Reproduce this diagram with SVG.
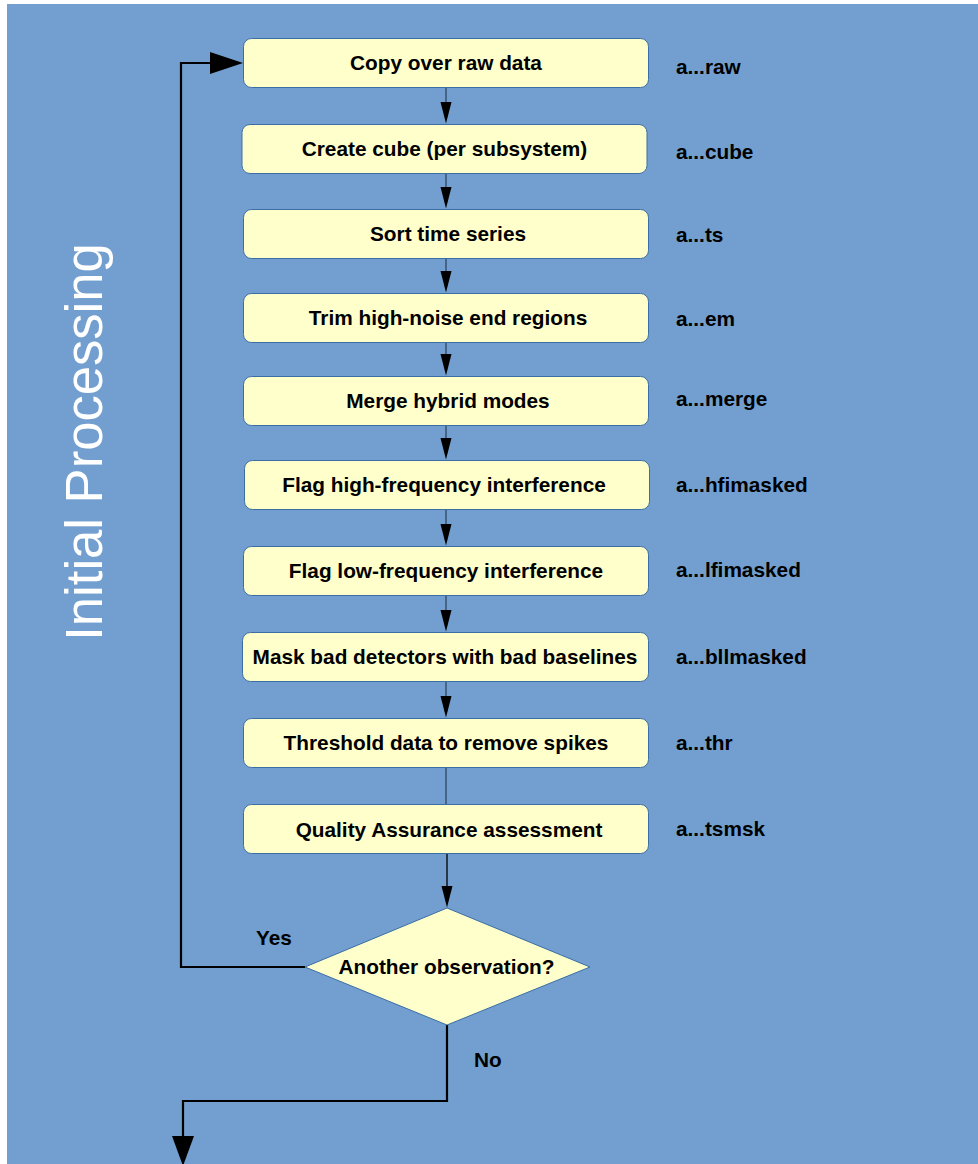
<svg xmlns="http://www.w3.org/2000/svg" width="978" height="1164" viewBox="0 0 978 1164">
<style>
.box{fill:#ffffcc;stroke:#3a6ea5;stroke-width:1}
.t{font-family:"Liberation Sans",Arial,sans-serif;font-weight:bold;font-size:20.8px;fill:#000}
.c{text-anchor:middle}
.ln{stroke:#2e4563;stroke-width:1.3;fill:none}
.bl{stroke:#000;stroke-width:2.2;fill:none}
.ah{fill:#000}
</style>
<rect x="0" y="0" width="978" height="1164" fill="#ffffff"/>
<rect x="7" y="4" width="971" height="1160" fill="#729fcf"/>
<text id="title" transform="translate(102,442) rotate(-90)" text-anchor="middle" font-family="Liberation Sans,Arial,sans-serif" font-size="52.6" fill="#ffffff">Initial Processing</text>
<g id="connectors">
<line class="ln" x1="446" y1="87" x2="446" y2="104"/><polygon class="ah" points="440.5,102 451.5,102 446,123.5"/>
<line class="ln" x1="446" y1="173" x2="446" y2="189"/><polygon class="ah" points="440.5,187 451.5,187 446,208.5"/>
<line class="ln" x1="446" y1="258" x2="446" y2="273"/><polygon class="ah" points="440.5,271 451.5,271 446,292.5"/>
<line class="ln" x1="446" y1="342" x2="446" y2="356"/><polygon class="ah" points="440.5,354 451.5,354 446,375.5"/>
<line class="ln" x1="446" y1="425" x2="446" y2="440"/><polygon class="ah" points="440.5,438 451.5,438 446,459.5"/>
<line class="ln" x1="446" y1="509" x2="446" y2="526"/><polygon class="ah" points="440.5,524 451.5,524 446,545.5"/>
<line class="ln" x1="446" y1="595" x2="446" y2="612"/><polygon class="ah" points="440.5,610 451.5,610 446,631.5"/>
<line class="ln" x1="446" y1="681" x2="446" y2="698"/><polygon class="ah" points="440.5,696 451.5,696 446,717.5"/>
<line class="ln" x1="446" y1="767" x2="446" y2="804"/>
<line x1="447" y1="853" x2="447" y2="888" stroke="#000" stroke-width="1.3"/><polygon class="ah" points="441.5,886 452.5,886 447,907.5"/>
<polyline class="bl" points="305,967 181,967 181,63 212,63"/><polygon class="ah" points="210,52 243,63 210,74"/>
<polyline class="bl" points="447,1025 447,1101 183,1101 183,1138"/><polygon class="ah" points="172,1136 194,1136 183,1166"/>
<text class="t" x="256" y="945">Yes</text>
<text class="t" x="474" y="1067">No</text>
</g>
<g id="n1"><rect class="box" x="243.5" y="38.5" width="405" height="49" rx="8"/><text class="t c" x="446" y="70">Copy over raw data</text></g>
<g id="n2"><rect class="box" x="242" y="124.5" width="405" height="49" rx="8"/><text class="t c" x="444.5" y="156">Create cube (per subsystem)</text></g>
<g id="n3"><rect class="box" x="243.5" y="209.5" width="405" height="49" rx="8"/><text class="t c" x="448" y="241">Sort time series</text></g>
<g id="n4"><rect class="box" x="243.5" y="293.5" width="405" height="49" rx="8"/><text class="t c" x="448" y="325">Trim high-noise end regions</text></g>
<g id="n5"><rect class="box" x="243.5" y="376.5" width="405" height="49" rx="8"/><text class="t c" x="448" y="408">Merge hybrid modes</text></g>
<g id="n6"><rect class="box" x="244.5" y="460.5" width="405" height="49" rx="8"/><text class="t c" x="444" y="492">Flag high-frequency interference</text></g>
<g id="n7"><rect class="box" x="243.5" y="546.5" width="405" height="49" rx="8"/><text class="t c" x="446" y="578">Flag low-frequency interference</text></g>
<g id="n8"><rect class="box" x="242.5" y="632.5" width="406" height="49" rx="8"/><text class="t c" x="445" y="664">Mask bad detectors with bad baselines</text></g>
<g id="n9"><rect class="box" x="243.5" y="718.5" width="405" height="49" rx="8"/><text class="t c" x="446" y="750">Threshold data to remove spikes</text></g>
<g id="n10"><rect class="box" x="243.5" y="804.5" width="405" height="49" rx="8"/><text class="t c" x="449" y="837">Quality Assurance assessment</text></g>
<g id="n11"><polygon class="box" points="447,908 590,967 447,1025 305,967"/><text class="t c" x="446.5" y="973.5">Another observation?</text></g>
<g id="labels">
<text class="t" x="676" y="74">a...raw</text>
<text class="t" x="676" y="159">a...cube</text>
<text class="t" x="676" y="242">a...ts</text>
<text class="t" x="676" y="326">a...em</text>
<text class="t" x="676" y="406">a...merge</text>
<text class="t" x="676" y="492">a...hfimasked</text>
<text class="t" x="676" y="577">a...lfimasked</text>
<text class="t" x="676" y="664">a...bllmasked</text>
<text class="t" x="676" y="750">a...thr</text>
<text class="t" x="676" y="836">a...tsmsk</text>
</g>
</svg>
